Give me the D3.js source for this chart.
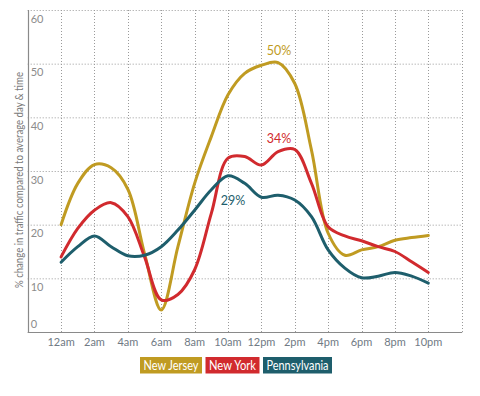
<!DOCTYPE html>
<html><head><meta charset="utf-8">
<script src="https://cdn.jsdelivr.net/npm/d3@7"></script>
<style>
html,body{margin:0;padding:0;background:#fff;}
svg{display:block;font-family:Lato,"Open Sans",sans-serif;}
</style></head>
<body><svg id="c" width="480" height="396"></svg>
<script>
// hours 0..22 (12am .. 10pm)
const hours = d3.range(0, 23);
const tickHours = [0,2,4,6,8,10,12,14,16,18,20,22];
const tickLabels = ["12am","2am","4am","6am","8am","10am","12pm","2pm","4pm","6pm","8pm","10pm"];
const yTicks = [0,10,20,30,40,50,60];
const seriesNames = ["New Jersey","New York","Pennsylvania"];
const seriesColors = ["#c09b22","#d12a2e","#1e5e6c"];
const newJersey = [20,27.7,31.2,30.6,26.6,14.6,4.1,15.9,27.7,36.4,44.2,48.2,49.7,50.2,46.3,33.9,18.4,14.3,15.3,15.9,17.1,17.6,18.0];
const newYork = [14.0,19.3,22.7,24.1,21.5,14.0,6.0,7.0,11.6,22.1,32.4,32.7,31.1,33.6,34.0,27.7,19.6,17.9,17.0,15.9,15.0,13.1,11.1];
const pennsylvania = [13.0,15.9,17.9,15.9,14.2,14.3,15.9,19.0,22.7,26.5,29.1,27.7,25.1,25.5,24.6,21.5,15.3,11.9,10.1,10.4,11.1,10.4,9.1];
const seriesValues = [newJersey,newYork,pennsylvania];
const callouts = [
  {series:0, hour:13, text:"50%"},
  {series:1, hour:13, text:"34%"},
  {series:2, hour:10, text:"29%"}
];

const svg = d3.select("#c");
const x = d3.scaleLinear().domain([-2,24]).range([27.7,461.7]);
const y = d3.scaleLinear().domain([0,60]).range([332,10]);
const gridColor = "#9a9a9a";

// horizontal grid
svg.append("g").selectAll("line").data(yTicks.filter(d=>d>0)).join("line")
  .attr("x1",x(-2)).attr("x2",x(24)).attr("y1",d=>y(d)+0.5).attr("y2",d=>y(d)+0.5)
  .attr("stroke",gridColor).attr("stroke-width",1).attr("stroke-dasharray","1,2");
// vertical grid
svg.append("g").selectAll("line").data(tickHours.concat([24])).join("line")
  .attr("x1",d=>Math.round(x(d))+0.5).attr("x2",d=>Math.round(x(d))+0.5)
  .attr("y1",y(60)).attr("y2",y(0))
  .attr("stroke",gridColor).attr("stroke-width",1).attr("stroke-dasharray","1,2");
// axes lines
svg.append("line").attr("x1",Math.round(x(-2))+0.5).attr("x2",Math.round(x(-2))+0.5)
  .attr("y1",y(60)).attr("y2",y(0)+1).attr("stroke","#8a8a8a").attr("stroke-width",1.2);
svg.append("line").attr("x1",x(-2)).attr("x2",x(24)+0.5)
  .attr("y1",y(0)+0.5).attr("y2",y(0)+0.5).attr("stroke","#8a8a8a").attr("stroke-width",1.2);

// y labels
svg.append("g").selectAll("text").data(yTicks).join("text")
  .attr("x",x(-2)+3).attr("y",d=> d===0 ? y(0)-4 : y(d)+12.5)
  .attr("fill","#8c8c8c").attr("font-size",11).text(d=>d);

// x labels
svg.append("g").selectAll("text").data(tickHours).join("text")
  .attr("x",d=>x(d)).attr("y",346).attr("text-anchor","middle")
  .attr("fill","#707a84").attr("font-size",11).text((d,i)=>tickLabels[i]);

// y title
svg.append("text").attr("transform","translate(23,180) rotate(-90)")
  .attr("text-anchor","middle").attr("fill","#7a7a7a").attr("font-size",11)
  .attr("textLength",216).attr("lengthAdjust","spacingAndGlyphs")
  .text("% change in traffic compared to average day & time");

// lines
const line = d3.line().x((d,i)=>x(hours[i])).y(d=>y(d)).curve(d3.curveCatmullRom.alpha(0.5));
svg.append("g").selectAll("path").data(seriesValues).join("path")
  .attr("d",line).attr("fill","none").attr("stroke",(d,i)=>seriesColors[i])
  .attr("stroke-width",3).attr("stroke-linejoin","round").attr("stroke-linecap","round");

// callouts
const offs = [[1,-8],[1,-9],[5,29]];
svg.append("g").selectAll("text").data(callouts).join("text")
  .attr("x",(d,i)=>x(d.hour)+offs[i][0]).attr("y",(d,i)=>y(seriesValues[d.series][d.hour])+offs[i][1])
  .attr("text-anchor","middle").attr("font-size",12.5).attr("fill",d=>seriesColors[d.series])
  .text(d=>d.text);

// legend
const lg = svg.append("g");
const widths = [62,54,69];
let lx = 140;
seriesNames.forEach((n,i)=>{
  const g = lg.append("g").attr("transform",`translate(${lx},357)`);
  g.append("rect").attr("width",widths[i]).attr("height",16.5).attr("fill",seriesColors[i]);
  g.append("text").attr("x",widths[i]/2).attr("y",12.5).attr("text-anchor","middle")
    .attr("fill","#fff").attr("font-size",12.5)
    .attr("textLength",widths[i]-7).attr("lengthAdjust","spacingAndGlyphs").text(n);
  lx += widths[i]+3.5;
});
</script></body></html>
